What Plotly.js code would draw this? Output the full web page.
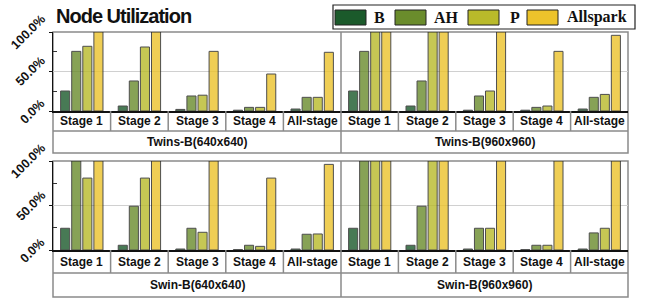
<!DOCTYPE html>
<html><head><meta charset="utf-8">
<script src="https://cdn.plot.ly/plotly-3.0.1.min.js"></script>
<style>html,body{margin:0;padding:0;background:#fff}#chart{width:646px;height:303px}
.gtitle{letter-spacing:-1px}</style>
</head><body><div id="chart"></div>
<script>
const stages = ['Stage 1','Stage 2','Stage 3','Stage 4','All-stage'];
const models = ['Twins-B(640x640)','Twins-B(960x960)','Swin-B(640x640)','Swin-B(960x960)'];
const seriesNames = ['B','AH','P','Allspark'];
const colors = ['#1b5a2b','#6a8c2c','#b9ba2a','#ecc32b'];
const yTickVals = [0, 50, 100];
const yTickText = ['0.0%','50.0%','100.0%'];

const twins640_B  = [25.3, 6.3, 2.0, 1.0, 2.5];
const twins640_AH = [75.5, 38.0, 19.0, 4.6, 17.3];
const twins640_P  = [81.9, 81.0, 20.0, 4.6, 17.3];
const twins640_A  = [100, 100, 75.5, 46.8, 74.3];

const twins960_B  = [25.3, 6.3, 1.0, 1.0, 2.5];
const twins960_AH = [75.5, 38.0, 19.0, 4.6, 17.3];
const twins960_P  = [100, 100, 25.3, 6.3, 21.0];
const twins960_A  = [100, 100, 100, 75.5, 95.8];

const swin640_B  = [24.4, 5.3, 1.1, 0.4, 1.1];
const swin640_AH = [100, 49.2, 24.4, 5.3, 17.7];
const swin640_P  = [80.8, 80.8, 19.9, 4.1, 18.0];
const swin640_A  = [100, 100, 100, 80.8, 96.2];

const swin960_B  = [24.4, 5.3, 1.1, 0.4, 1.1];
const swin960_AH = [100, 49.2, 24.4, 5.3, 19.2];
const swin960_P  = [100, 100, 24.4, 5.3, 24.4];
const swin960_A  = [100, 100, 100, 100, 100];

const panels = [
  [twins640_B, twins640_AH, twins640_P, twins640_A],
  [twins960_B, twins960_AH, twins960_P, twins960_A],
  [swin640_B, swin640_AH, swin640_P, swin640_A],
  [swin960_B, swin960_AH, swin960_P, swin960_A]
];

const W = 646, H = 303;
const px = v => v / W;
const py = v => 1 - v / H;

const xL = 53, xM = 341, xR = 628;
const rows = [
  {top: 32, axis: 111, mid: 131, bot: 153},
  {top: 161, axis: 250, mid: 273, bot: 297}
];

const traces = [];
panels.forEach((p, i) => {
  const ax = i === 0 ? '' : String(i + 1);
  p.forEach((vals, s) => {
    traces.push({
      type: 'bar', x: stages, y: vals, name: seriesNames[s],
      xaxis: 'x' + ax, yaxis: 'y' + ax, showlegend: false,
      marker: {color: colors[s], opacity: 0.8, line: {color: '#222', width: 1}},
      hoverinfo: 'skip'
    });
  });
});

const layout = {
  width: W, height: H,
  margin: {l: 0, r: 0, t: 0, b: 0},
  paper_bgcolor: '#fff', plot_bgcolor: '#fff',
  barmode: 'group', bargap: 0.23, bargroupgap: 0.18,
  showlegend: false,
  font: {family: 'Liberation Sans, Arial, sans-serif', color: '#111'},
  title: {text: '<b>Node Utilization</b>', x: px(56), xanchor: 'left', xref: 'paper',
    y: py(16), yref: 'paper', yanchor: 'middle',
    font: {size: 20, color: '#111', family: 'Liberation Sans, Arial, sans-serif'}},
  shapes: [], annotations: []
};

for (let i = 0; i < 4; i++) {
  const ax = i === 0 ? '' : String(i + 1);
  const r = rows[Math.floor(i / 2)];
  const left = i % 2 === 0;
  layout['xaxis' + ax] = {
    domain: left ? [px(xL), px(xM)] : [px(xM), px(xR)],
    anchor: 'y' + ax, type: 'category', range: [-0.5, 4.5],
    showticklabels: false, ticks: '', showgrid: false, zeroline: false,
    showline: true, linecolor: '#111', linewidth: 2, fixedrange: true
  };
  layout['yaxis' + ax] = {
    domain: [py(r.axis), py(r.top)],
    anchor: 'x' + ax, range: [0, 100],
    tickvals: yTickVals, showticklabels: false,
    ticks: left ? 'outside' : '', ticklen: 3, tickcolor: '#111',
    minor: left ? {tickvals: [25, 75], ticks: 'inside', ticklen: 4, tickcolor: '#333', showgrid: false} : {},
    showgrid: true, gridcolor: '#d0d0d0', gridwidth: 1, zeroline: false,
    showline: left, linecolor: '#111', linewidth: 1.5, fixedrange: true
  };
  if (left) {
    yTickVals.forEach((v, k) => {
      layout.annotations.push({
        xref: 'paper', yref: 'y' + ax, x: px(51), y: v,
        text: '<b>' + yTickText[k] + '</b>', showarrow: false, textangle: -45,
        xanchor: 'right', yanchor: 'middle',
        font: {size: 12.5, color: '#111'}
      });
    });
  }
  stages.forEach(st => {
    layout.annotations.push({
      xref: 'x' + ax, yref: 'paper', x: st, y: py((r.axis + r.mid) / 2),
      text: '<b>' + st + '</b>', showarrow: false, xanchor: 'center', yanchor: 'middle',
      font: {size: 12, color: '#111'}
    });
  });
  for (let k = 0; k < stages.length - 1; k++) {
    layout.shapes.push({
      type: 'line', xref: 'x' + ax, yref: 'paper', x0: k + 0.5, x1: k + 0.5,
      y0: py(r.axis), y1: py(r.mid), line: {color: '#8a8a8a', width: 1.5}
    });
  }
  layout.annotations.push({
    xref: 'paper', yref: 'paper',
    x: left ? px((xL + xM) / 2) : px((xM + xR) / 2), y: py((r.mid + r.bot) / 2),
    text: '<b>' + models[i] + '</b>', showarrow: false, xanchor: 'center', yanchor: 'middle',
    font: {size: 12, color: '#111'}
  });
}

rows.forEach(r => {
  layout.shapes.push({type: 'rect', xref: 'paper', yref: 'paper', x0: px(xL), x1: px(xR),
    y0: py(r.bot), y1: py(r.top), line: {color: '#8a8a8a', width: 1.5}, layer: 'below'});
  layout.shapes.push({type: 'line', xref: 'paper', yref: 'paper', x0: px(xM), x1: px(xM),
    y0: py(r.bot), y1: py(r.top), line: {color: '#8a8a8a', width: 1.5}});
  layout.shapes.push({type: 'line', xref: 'paper', yref: 'paper', x0: px(xL), x1: px(xR),
    y0: py(r.mid), y1: py(r.mid), line: {color: '#8a8a8a', width: 1.5}});
});

// legend (manual)
layout.shapes.push({type: 'rect', xref: 'paper', yref: 'paper', x0: px(333), x1: px(635),
  y0: py(29), y1: py(5), line: {color: '#222', width: 1.2}, fillcolor: '#fff'});
const swX = [335, 395, 468, 527];
const txX = [372, 432, 508, 565];
seriesNames.forEach((n, s) => {
  layout.shapes.push({type: 'rect', xref: 'paper', yref: 'paper', x0: px(swX[s]), x1: px(swX[s] + 31),
    y0: py(25), y1: py(10), line: {color: '#222', width: 1}, fillcolor: colors[s]});
  layout.annotations.push({xref: 'paper', yref: 'paper', x: px(txX[s]), y: py(17.5),
    xanchor: 'left', yanchor: 'middle', text: '<b>' + n + '</b>', showarrow: false,
    font: {size: 16, color: '#111', family: 'Liberation Serif, Times New Roman, serif'}});
});

Plotly.newPlot('chart', traces, layout, {displayModeBar: false, staticPlot: true});
</script></body></html>
